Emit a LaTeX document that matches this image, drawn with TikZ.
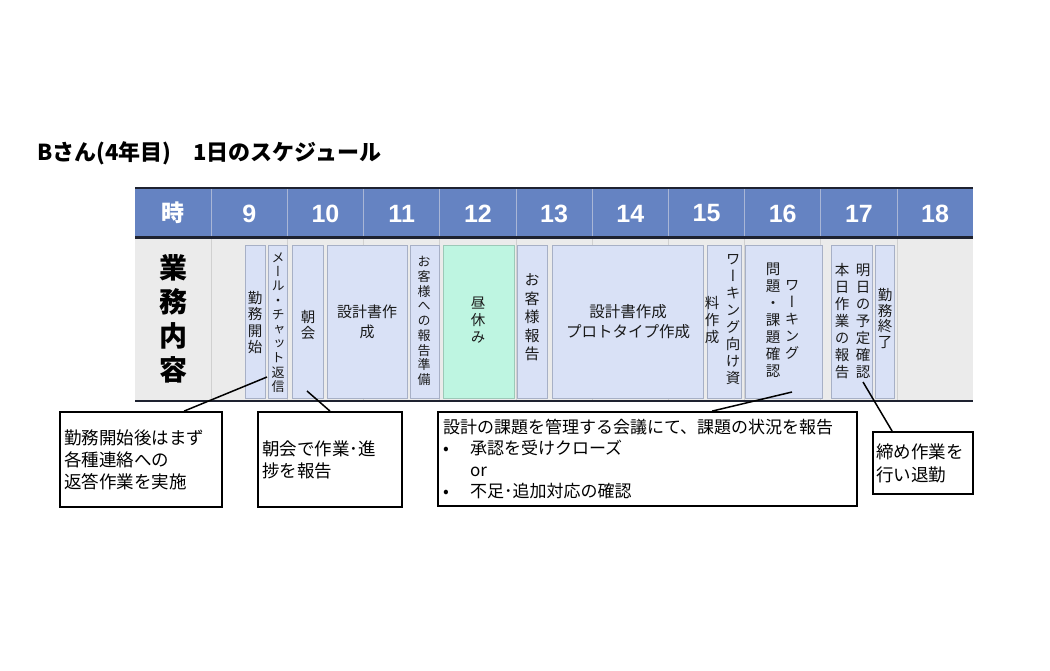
\documentclass[tikz,border=0pt]{standalone}
\usepackage{fontspec}
\usetikzlibrary{calc}
\newfontfamily\jp{Noto Sans CJK JP}
\newfontfamily\jpv[RawFeature=+vert]{Noto Sans CJK JP}
\newfontfamily\hdfont{Liberation Sans}
\definecolor{hdblue}{HTML}{6583C2}
\definecolor{hdline}{HTML}{1E2230}
\definecolor{bodygray}{HTML}{EBEBEB}
\definecolor{divgray}{HTML}{D0D0D0}
\definecolor{hddiv}{HTML}{A9B6D6}
\definecolor{taskfill}{HTML}{D9E1F6}
\definecolor{taskline}{HTML}{A7B0C6}
\definecolor{lunchfill}{HTML}{BEF5E1}
\definecolor{lunchline}{HTML}{9CC9B8}
\definecolor{txt}{HTML}{1A1A1A}
\begin{document}
\begin{tikzpicture}[x=1pt,y=-1pt,
  task/.style={draw=taskline, fill=taskfill, line width=0.8pt, inner sep=0pt, minimum height=153pt},
  lunch/.style={task, draw=lunchline, fill=lunchfill},
  vt/.style={align=center, inner sep=0pt, text=txt, font=\jpv\fontsize{14.5}{17}\selectfont},
  hour/.style={inner sep=0pt, text=white, font=\hdfont\bfseries\fontsize{25}{28}\selectfont},
  callout/.style={draw=black, line width=1.8pt, fill=white, align=left, text=black, inner xsep=4pt, inner ysep=0pt, font=\jp\fontsize{17.5}{22}\selectfont},
  conn/.style={draw=black, line width=1.5pt}
]
\useasboundingbox (0,0) rectangle (1050,670);

% title
\node[anchor=west, inner sep=0pt, font=\jp\bfseries\fontsize{22}{26}\selectfont] (title) at (37,153) {Bさん(4年目)\quad 1日のスケジュール};

% table
\fill[hdblue] (135,188) rectangle (973.2,237.5);
\fill[bodygray] (135,237.5) rectangle (973.2,401);
\foreach \i in {1,...,10} {
  \draw[hddiv, line width=0.8pt] ({135+76.2*\i},188) -- ({135+76.2*\i},237.5);
  \draw[divgray, line width=0.8pt] ({135+76.2*\i},237.5) -- ({135+76.2*\i},401);
}
\draw[hdline, line width=2.2pt] (135,188) -- (973.2,188);
\draw[hdline, line width=2.2pt] (135,237.5) -- (973.2,237.5);
\draw[hdline, line width=2.4pt] (135,401) -- (973.2,401);

\node[inner sep=0pt, text=white, font=\jp\bfseries\fontsize{23}{26}\selectfont] (hji) at (173.1,213) {時};
\foreach \h [count=\i] in {9,...,18}
  \node[hour] (h\h) at ({173.1+76.2*\i},213.5) {\h};

\node[align=center, inner sep=0pt, text=black, font=\jp\bfseries\fontsize{28}{34}\selectfont] (gyomu) at (173.1,319) {業\\務\\内\\容};

% task boxes
\node[task, minimum width=20pt] (t1) at (255,321.5) {};
\node[task, minimum width=19pt] (t2) at (277.5,321.5) {};
\node[task, minimum width=31pt] (t3) at (307.5,321.5) {};
\node[task, minimum width=80pt] (t4) at (367,321.5) {};
\node[task, minimum width=29pt] (t5) at (424.5,321.5) {};
\node[lunch, minimum width=71pt] (t6) at (478.5,321.5) {};
\node[task, minimum width=30pt] (t7) at (532,321.5) {};
\node[task, minimum width=151pt] (t8) at (627.5,321.5) {};
\node[task, minimum width=34pt] (t9) at (724,321.5) {};
\node[task, minimum width=77pt] (t10) at (783.5,321.5) {};
\node[task, minimum width=41pt] (t11) at (851.5,321.5) {};
\node[task, minimum width=19pt] (t12) at (884.5,321.5) {};

% task texts
\node[vt, font=\jpv\fontsize{14.5}{16.5}\selectfont] (x1) at (255,322.5) {勤\\務\\開\\始};
\node[vt, font=\jpv\fontsize{13}{14.4}\selectfont] (x2) at (278,322.5) {メ\\ー\\ル\\・\\チ\\ャ\\ッ\\ト\\返\\信};
\node[vt, font=\jpv\fontsize{14.5}{15.5}\selectfont] (x3) at (308,325) {朝\\会};
\node[vt, font=\jp\fontsize{15}{20}\selectfont] (x4) at (367,322) {設計書作\\成};
\node[vt, font=\jpv\fontsize{13}{14.75}\selectfont] (x5) at (424,321) {お\\客\\様\\へ\\の\\報\\告\\準\\備};
\node[vt] (x6) at (478,320) {昼\\休\\み};
\node[vt, font=\jpv\fontsize{15}{18.5}\selectfont] (x7) at (532,317.5) {お\\客\\様\\報\\告};
\node[vt, font=\jp\fontsize{15.5}{20}\selectfont] (x8) at (628,322) {設計書作成\\プロトタイプ作成};
\node[vt] (x9a) at (733,320) {ワ\\ー\\キ\\ン\\グ\\向\\け\\資};
\node[vt] (x9b) at (712,320) {料\\作\\成};
\node[vt] (x10a) at (792,320) {ワ\\ー\\キ\\ン\\グ};
\node[vt] (x10b) at (773,320) {問\\題\\・\\課\\題\\確\\認};
\node[vt] (x11a) at (863,321) {明\\日\\の\\予\\定\\確\\認};
\node[vt] (x11b) at (842,321) {本\\日\\作\\業\\の\\報\\告};
\node[vt, font=\jpv\fontsize{14.5}{15.7}\selectfont] (x12) at (885,318.5) {勤\\務\\終\\了};

% callouts
\node[callout, minimum width=162pt, minimum height=95pt, text width=154pt] (c1) at (141,459.5) {勤務開始後はまず\\各種連絡への\\返答作業を実施};
\node[callout, minimum width=144pt, minimum height=95pt, text width=136pt] (c2) at (330,459.5) {朝会で作業･進\\捗を報告};
\node[callout, minimum width=419pt, minimum height=94pt, text width=409pt, inner xsep=5pt, font=\jp\fontsize{17}{21.5}\selectfont] (c3) at (647.5,459) {設計の課題を管理する会議にて、課題の状況を報告\\\makebox[27pt][l]{•}承認を受けクローズ\\\hspace*{27pt}or\\\makebox[27pt][l]{•}不足･追加対応の確認};
\node[callout, minimum width=100pt, minimum height=62pt, text width=94pt, inner xsep=3pt, font=\jp\fontsize{17.5}{23}\selectfont] (c4) at (923,463) {締め作業を\\行い退勤};

% connectors
\coordinate (p1) at (267,377);
\coordinate (p2) at (307,391);
\coordinate (p3) at (792,392);
\coordinate (p4) at (863,382);
\draw[conn] ($(c1.north west)+(125,0)$) -- (p1);
\draw[conn] (c2.north) -- (p2);
\draw[conn] ($(c3.north west)+(275,0)$) -- (p3);
\draw[conn] ($(c4.north west)+(20,0)$) -- (p4);
\end{tikzpicture}
\end{document}
